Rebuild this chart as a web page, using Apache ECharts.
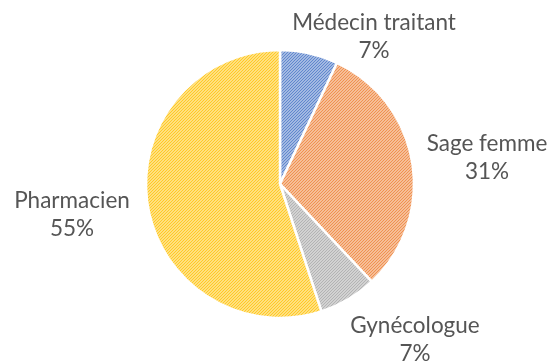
<!DOCTYPE html>
<html>
<head>
<meta charset="utf-8">
<script src="https://cdn.jsdelivr.net/npm/echarts@6/dist/echarts.min.js"></script>
<style>
  html, body { margin: 0; padding: 0; background: #ffffff; }
  #chart { width: 552px; height: 363px; }
</style>
</head>
<body>
<div id="chart"></div>
<script>
// Répartition des professionnels consultés
const categories = ['Médecin traitant', 'Sage femme', 'Gynécologue', 'Pharmacien'];
const shares = [7, 31, 7, 55];
const baseColors = ['#4472C4', '#ED7D31', '#A5A5A5', '#FFC000'];

// Fine diagonal hatch fill, like an office "light upward diagonal" pattern
function hatch(hex) {
  const n = 3;
  const c = document.createElement('canvas');
  c.width = n; c.height = n;
  const ctx = c.getContext('2d');
  const img = ctx.createImageData(n, n);
  const r = parseInt(hex.slice(1, 3), 16);
  const g = parseInt(hex.slice(3, 5), 16);
  const b = parseInt(hex.slice(5, 7), 16);
  for (let y = 0; y < n; y++) {
    for (let x = 0; x < n; x++) {
      const i = (y * n + x) * 4;
      const on = ((x + y) % n) === 0;
      const t = on ? 0.15 : 0.5;
      img.data[i] = Math.round(r + (255 - r) * t);
      img.data[i + 1] = Math.round(g + (255 - g) * t);
      img.data[i + 2] = Math.round(b + (255 - b) * t);
      img.data[i + 3] = 255;
    }
  }
  ctx.putImageData(img, 0, 0);
  return { image: c, repeat: 'repeat' };
}

// Label anchor points (centre of the two-line label)
const labelSpots = [[374, 37], [487, 158], [415, 340], [72, 215]];

const chart = echarts.init(document.getElementById('chart'), null, { renderer: 'canvas' });
chart.setOption({
  animation: false,
  series: [{
    type: 'pie',
    center: [280, 184],
    radius: 134,
    startAngle: 90,
    clockwise: true,
    data: categories.map((name, i) => ({
      name,
      value: shares[i],
      itemStyle: { color: hatch(baseColors[i]) }
    })),
    itemStyle: { borderColor: '#ffffff', borderWidth: 2.5 },
    label: {
      show: true,
      position: 'outside',
      formatter: '{b}\n{d}%',
      color: '#555555',
      fontFamily: 'Lato',
      fontSize: 22.5,
      lineHeight: 28,
      align: 'center',
      overflow: 'none',
      width: 220
    },
    labelLine: { show: false },
    labelLayout: function (params) {
      const p = labelSpots[params.dataIndex];
      return { x: p[0], y: p[1], align: 'center', verticalAlign: 'middle' };
    },
    emphasis: { disabled: true }
  }]
});
</script>
</body>
</html>
